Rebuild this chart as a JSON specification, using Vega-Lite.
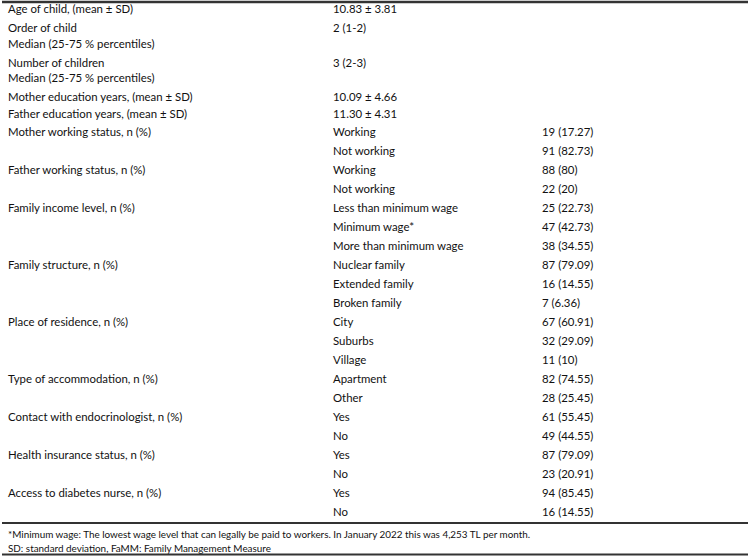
{
  "$schema": "https://vega.github.io/schema/vega-lite/v6.json",
  "width": 750,
  "height": 556,
  "autosize": {"type": "fit", "contains": "padding"},
  "padding": 0,
  "background": "white",
  "config": {"view": {"stroke": null}},
  "datasets": {
    "cells": [
      {"r": 0, "col": 1, "t": "Age of child, (mean ± SD)"},
      {"r": 0, "col": 2, "t": "10.83 ± 3.81"},
      {"r": 1, "col": 1, "t": "Order of child"},
      {"r": 1, "col": 2, "t": "2 (1-2)"},
      {"r": 1.84, "col": 1, "t": "Median (25-75 % percentiles)"},
      {"r": 2.84, "col": 1, "t": "Number of children"},
      {"r": 2.84, "col": 2, "t": "3 (2-3)"},
      {"r": 3.63, "col": 1, "t": "Median (25-75 % percentiles)"},
      {"r": 4.63, "col": 1, "t": "Mother education years, (mean ± SD)"},
      {"r": 4.63, "col": 2, "t": "10.09 ± 4.66"},
      {"r": 5.53, "col": 1, "t": "Father education years, (mean ± SD)"},
      {"r": 5.53, "col": 2, "t": "11.30 ± 4.31"},
      {"r": 6.47, "col": 1, "t": "Mother working status, n (%)"},
      {"r": 6.47, "col": 2, "t": "Working"},
      {"r": 6.47, "col": 3, "t": "19 (17.27)"},
      {"r": 7.47, "col": 2, "t": "Not working"},
      {"r": 7.47, "col": 3, "t": "91 (82.73)"},
      {"r": 8.47, "col": 1, "t": "Father working status, n (%)"},
      {"r": 8.47, "col": 2, "t": "Working"},
      {"r": 8.47, "col": 3, "t": "88 (80)"},
      {"r": 9.47, "col": 2, "t": "Not working"},
      {"r": 9.47, "col": 3, "t": "22 (20)"},
      {"r": 10.47, "col": 1, "t": "Family income level, n (%)"},
      {"r": 10.47, "col": 2, "t": "Less than minimum wage"},
      {"r": 10.47, "col": 3, "t": "25 (22.73)"},
      {"r": 11.47, "col": 2, "t": "Minimum wage*"},
      {"r": 11.47, "col": 3, "t": "47 (42.73)"},
      {"r": 12.47, "col": 2, "t": "More than minimum wage"},
      {"r": 12.47, "col": 3, "t": "38 (34.55)"},
      {"r": 13.47, "col": 1, "t": "Family structure, n (%)"},
      {"r": 13.47, "col": 2, "t": "Nuclear family"},
      {"r": 13.47, "col": 3, "t": "87 (79.09)"},
      {"r": 14.47, "col": 2, "t": "Extended family"},
      {"r": 14.47, "col": 3, "t": "16 (14.55)"},
      {"r": 15.47, "col": 2, "t": "Broken family"},
      {"r": 15.47, "col": 3, "t": "7 (6.36)"},
      {"r": 16.47, "col": 1, "t": "Place of residence, n (%)"},
      {"r": 16.47, "col": 2, "t": "City"},
      {"r": 16.47, "col": 3, "t": "67 (60.91)"},
      {"r": 17.47, "col": 2, "t": "Suburbs"},
      {"r": 17.47, "col": 3, "t": "32 (29.09)"},
      {"r": 18.47, "col": 2, "t": "Village"},
      {"r": 18.47, "col": 3, "t": "11 (10)"},
      {"r": 19.47, "col": 1, "t": "Type of accommodation, n (%)"},
      {"r": 19.47, "col": 2, "t": "Apartment"},
      {"r": 19.47, "col": 3, "t": "82 (74.55)"},
      {"r": 20.47, "col": 2, "t": "Other"},
      {"r": 20.47, "col": 3, "t": "28 (25.45)"},
      {"r": 21.47, "col": 1, "t": "Contact with endocrinologist, n (%)"},
      {"r": 21.47, "col": 2, "t": "Yes"},
      {"r": 21.47, "col": 3, "t": "61 (55.45)"},
      {"r": 22.47, "col": 2, "t": "No"},
      {"r": 22.47, "col": 3, "t": "49 (44.55)"},
      {"r": 23.47, "col": 1, "t": "\u00a0Health insurance status, n (%)"},
      {"r": 23.47, "col": 2, "t": "Yes"},
      {"r": 23.47, "col": 3, "t": "87 (79.09)"},
      {"r": 24.47, "col": 2, "t": "No"},
      {"r": 24.47, "col": 3, "t": "23 (20.91)"},
      {"r": 25.47, "col": 1, "t": "Access to diabetes nurse, n (%)"},
      {"r": 25.47, "col": 2, "t": "Yes"},
      {"r": 25.47, "col": 3, "t": "94 (85.45)"},
      {"r": 26.47, "col": 2, "t": "No"},
      {"r": 26.47, "col": 3, "t": "16 (14.55)"}
    ],
    "notes": [
      {"r": 27.63, "col": 1, "t": "*Minimum wage: The lowest wage level that can legally be paid to workers. In January 2022 this was 4,253 TL per month."},
      {"r": 28.36, "col": 1, "t": "SD: standard deviation, FaMM: Family Management Measure"}
    ],
    "rules": [
      {"r": -0.42, "w": 2.5},
      {"r": 27.0, "w": 2},
      {"r": 28.66, "w": 2}
    ]
  },
  "layer": [
    {
      "data": {"name": "cells"},
      "mark": {"type": "text", "align": "left", "baseline": "middle", "font": "Lato", "fontSize": 11.4, "color": "#111111"},
      "encoding": {
        "x": {"field": "col", "type": "quantitative", "scale": {"domain": [1, 2, 3], "range": [6, 331, 540], "nice": false, "zero": false}, "axis": null},
        "y": {"field": "r", "type": "quantitative", "scale": {"domain": [-0.526, 28.737], "reverse": true, "nice": false, "zero": false}, "axis": null},
        "text": {"field": "t"}
      }
    },
    {
      "data": {"name": "notes"},
      "mark": {"type": "text", "align": "left", "baseline": "middle", "font": "Lato", "fontSize": 9.9, "color": "#111111"},
      "encoding": {
        "x": {"field": "col", "type": "quantitative", "axis": null},
        "y": {"field": "r", "type": "quantitative", "axis": null},
        "text": {"field": "t"}
      }
    },
    {
      "data": {"name": "rules"},
      "mark": {"type": "rule", "color": "#333333", "clip": false},
      "encoding": {
        "y": {"field": "r", "type": "quantitative", "axis": null},
        "strokeWidth": {"field": "w", "type": "quantitative", "scale": null}
      }
    }
  ]
}
